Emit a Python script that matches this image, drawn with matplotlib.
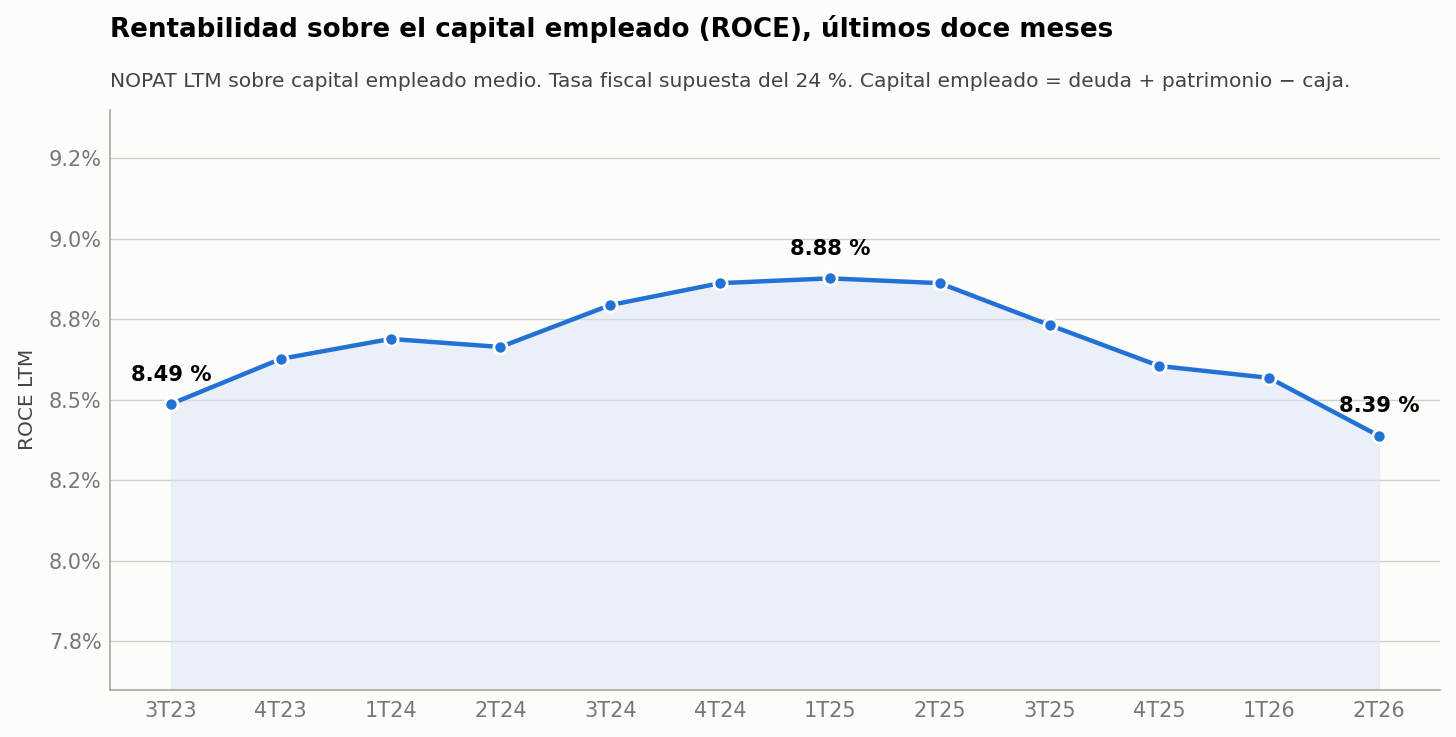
import matplotlib
matplotlib.use("Agg")
import matplotlib.pyplot as plt
from matplotlib.ticker import FuncFormatter, MultipleLocator

quarters = ["3T23", "4T23", "1T24", "2T24", "3T24", "4T24",
            "1T25", "2T25", "3T25", "4T25", "1T26", "2T26"]
roce = [8.487, 8.627, 8.689, 8.664, 8.794, 8.862,
        8.877, 8.862, 8.732, 8.605, 8.568, 8.388]
labels_at = [0, 6, 11]

bg = "#fcfcfa"
blue = "#2272d6"

fig = plt.figure(figsize=(14.56, 7.37), dpi=100, facecolor=bg)
ax = fig.add_axes([0.0755, 0.064, 0.9135, 0.787], facecolor=bg)

x = list(range(len(quarters)))
ax.fill_between(x, roce, 7.6, color="#dce6f7", alpha=0.55, zorder=1)
ax.plot(x, roce, color=blue, lw=3.2, marker="o", ms=9.5,
        markerfacecolor=blue, markeredgecolor="white", markeredgewidth=2, zorder=3)

for i in labels_at:
    ax.annotate(f"{roce[i]:.2f} %", (x[i], roce[i]), xytext=(0, 14),
                textcoords="offset points", ha="center", va="bottom",
                fontsize=15.2, fontweight="bold", color="black", zorder=4)

ax.set_xlim(-0.555, 11.555)
ax.set_ylim(7.6, 9.4)
ax.yaxis.set_major_locator(MultipleLocator(0.25))
ax.yaxis.set_major_formatter(FuncFormatter(lambda v, p: f"{v:.1f}%"))
ax.set_xticks(x)
ax.set_xticklabels(quarters)
ax.tick_params(length=0, labelsize=15, colors="#777777")
ax.tick_params(axis="y", pad=6)
ax.tick_params(axis="x", pad=8)
ax.grid(axis="y", color="#cfcfc8", lw=1)
ax.set_axisbelow(True)
for s in ["top", "right"]:
    ax.spines[s].set_visible(False)
for s in ["left", "bottom"]:
    ax.spines[s].set_color("#aaaa9c")
    ax.spines[s].set_linewidth(1.2)
ax.set_ylabel("ROCE LTM", fontsize=14.5, color="#444444", labelpad=8)

fig.text(0.0755, 0.96, "Rentabilidad sobre el capital empleado (ROCE), últimos doce meses",
         fontsize=18.8, fontweight="bold", color="black", ha="left", va="center")
fig.text(0.0755, 0.89, "NOPAT LTM sobre capital empleado medio. Tasa fiscal supuesta del 24 %. "
         "Capital empleado = deuda + patrimonio − caja.",
         fontsize=14.55, color="#444444", ha="left", va="center")

fig.savefig("out.png", dpi=100, facecolor=bg)
